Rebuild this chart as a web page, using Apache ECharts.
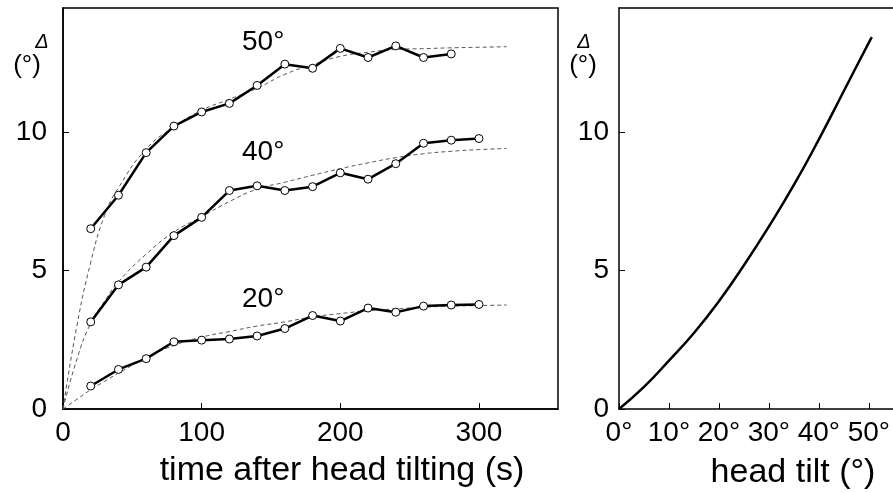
<!DOCTYPE html>
<html><head><meta charset="utf-8">
<script src="https://cdn.jsdelivr.net/npm/echarts@6/dist/echarts.min.js"></script>
<style>html,body{margin:0;padding:0;background:#fff}#c{width:893px;height:493px}</style>
</head><body><div id="c"></div>
<script>
// ---- data ----
var times = [20,40,60,80,100,120,140,160,180,200,220,240,260,280,300];
var obs50 = [6.52,7.73,9.27,10.23,10.74,11.05,11.7,12.47,12.32,13.04,12.71,13.13,12.71,12.84];
var obs40 = [3.15,4.49,5.13,6.27,6.93,7.9,8.07,7.9,8.04,8.54,8.31,8.87,9.61,9.72,9.78];
var obs20 = [0.83,1.43,1.82,2.43,2.49,2.53,2.64,2.91,3.38,3.18,3.65,3.5,3.72,3.76,3.78];
var fitTimes = [0,10,20,30,40,60,80,100,120,140,160,180,200,220,240,260,280,300,320];
var fit50 = [0,3.0,5.3,7.0,8.0,9.4,10.2,10.8,11.2,11.6,12.1,12.45,12.75,12.9,13.0,13.03,13.06,13.08,13.1];
var fit40 = [0,1.8,3.1,3.9,4.6,5.6,6.4,6.95,7.5,7.95,8.2,8.45,8.69,8.9,9.09,9.23,9.32,9.38,9.42];
var fit20 = [0,0.35,0.7,1.0,1.3,1.85,2.3,2.6,2.8,3.0,3.15,3.33,3.45,3.55,3.62,3.68,3.72,3.74,3.76];
var tilt = [0,5,10,15,20,25,30,35,40,45,50,50.6];
var tiltDelta = [0,0.8,1.75,2.75,3.9,5.2,6.6,8.1,9.75,11.5,13.25,13.45];
var seriesLabels = ['50°','40°','20°'];
var xTitleLeft = 'time after head tilting (s)';
var xTitleRight = 'head tilt (°)';

function pairs(xs, ys){ return ys.map(function(v,i){ return [xs[i], v]; }); }

var FONT = 'Liberation Sans, Arial, sans-serif';
var obsStyle = {
  type:'line', symbol:'circle', symbolSize:8,
  lineStyle:{color:'#000', width:2.5},
  itemStyle:{color:'#fff', borderColor:'#000', borderWidth:1},
  xAxisIndex:0, yAxisIndex:0, z:5, animation:false
};
function fitSeries(data){
  return {type:'line', data:data, smooth:true, symbol:'none', xAxisIndex:0, yAxisIndex:0,
    lineStyle:{color:'#555', width:1, type:[4,3]}, z:3, animation:false};
}
function axis(extra){
  var o = {
    type:'value',
    axisLine:{show:true, onZero:false, lineStyle:{color:'#000', width:1.5}},
    axisTick:{show:true, inside:true, length:6, lineStyle:{color:'#000', width:1}},
    splitLine:{show:false},
    axisLabel:{color:'#000', fontSize:28, fontFamily:FONT, showMaxLabel:false}
  };
  for (var k in extra){
    if (extra[k] && typeof extra[k]==='object' && o[k]) { for (var j in extra[k]) o[k][j]=extra[k][j]; }
    else o[k]=extra[k];
  }
  return o;
}

var chart = echarts.init(document.getElementById('c'), null, {renderer:'canvas'});
var option = {
  backgroundColor:'#fff',
  animation:false,
  grid:[
    {left:63, top:8, width:495, height:401, show:true, borderColor:'#000', borderWidth:1.5, backgroundColor:'transparent'},
    {left:619, top:8, width:274, height:401, show:false}
  ],
  xAxis:[
    axis({gridIndex:0, min:0, max:357, interval:100, axisLabel:{margin:10}}),
    axis({gridIndex:1, min:0, max:54.8, interval:10, axisLabel:{margin:10, formatter:'{value}°'}}),
    axis({gridIndex:1, position:'top', min:0, max:54.8, axisTick:{show:false}, axisLabel:{show:false}})
  ],
  yAxis:[
    axis({gridIndex:0, min:0, max:14.5, interval:5, axisLabel:{margin:16}}),
    axis({gridIndex:1, min:0, max:14.5, interval:5, axisLabel:{margin:10}})
  ],
  series:[
    fitSeries(pairs(fitTimes, fit50)),
    fitSeries(pairs(fitTimes, fit40)),
    fitSeries(pairs(fitTimes, fit20)),
    Object.assign({}, obsStyle, {data:pairs(times, obs50)}),
    Object.assign({}, obsStyle, {data:pairs(times, obs40)}),
    Object.assign({}, obsStyle, {data:pairs(times, obs20)}),
    {type:'line', data:pairs(tilt, tiltDelta), smooth:true, symbol:'none', xAxisIndex:1, yAxisIndex:1,
      lineStyle:{color:'#000', width:2.5}, animation:false}
  ],
  graphic:[
    {type:'text', left:242, top:28, style:{text:seriesLabels[0], font:'28px '+FONT, fill:'#000'}},
    {type:'text', left:242, top:138, style:{text:seriesLabels[1], font:'28px '+FONT, fill:'#000'}},
    {type:'text', left:242, top:285, style:{text:seriesLabels[2], font:'28px '+FONT, fill:'#000'}},
    {type:'text', x:342, y:471, style:{text:xTitleLeft, font:'34px '+FONT, fill:'#000', textAlign:'center', textVerticalAlign:'middle'}},
    {type:'text', x:793, y:473, style:{text:xTitleRight, font:'34px '+FONT, fill:'#000', textAlign:'center', textVerticalAlign:'middle'}},
    {type:'text', x:42, y:42, style:{text:'Δ', font:'italic 20px '+FONT, fill:'#000', textAlign:'center', textVerticalAlign:'middle'}},
    {type:'text', x:27, y:66, style:{text:'(°)', font:'26px '+FONT, fill:'#000', textAlign:'center', textVerticalAlign:'middle'}},
    {type:'text', x:584, y:42, style:{text:'Δ', font:'italic 20px '+FONT, fill:'#000', textAlign:'center', textVerticalAlign:'middle'}},
    {type:'text', x:583, y:66, style:{text:'(°)', font:'26px '+FONT, fill:'#000', textAlign:'center', textVerticalAlign:'middle'}}
  ]
};
chart.setOption(option);
</script>
</body></html>
